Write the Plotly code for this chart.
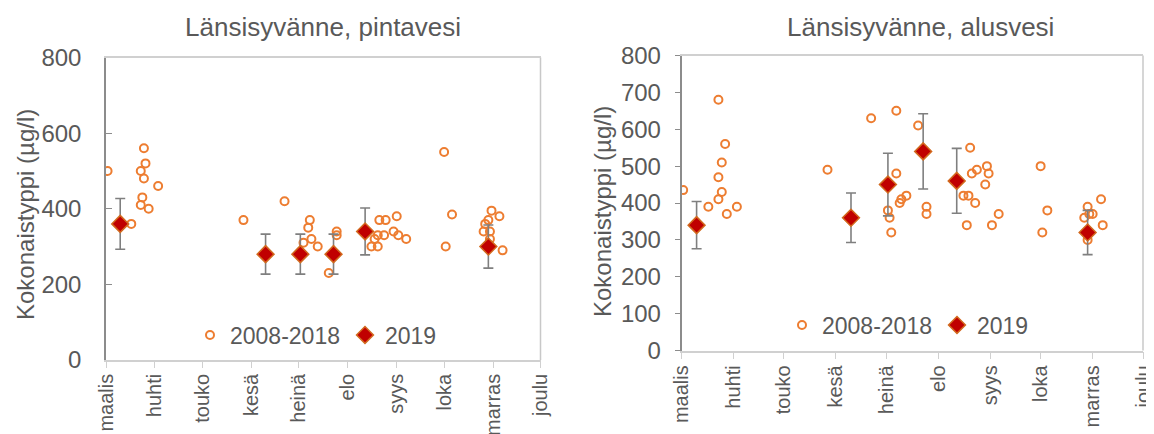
import plotly.graph_objects as go

# ---------------- data ----------------
month_ticks = ["2019-03-01", "2019-04-01", "2019-05-01", "2019-06-01", "2019-07-01",
               "2019-08-01", "2019-09-01", "2019-10-01", "2019-11-01", "2019-12-01"]
month_labels = ["maalis", "huhti", "touko", "kesä", "heinä", "elo", "syys", "loka", "marras", "joulu"]

# Left: pintavesi, 2008-2018
surf_hist_dates = ["2019-03-02", "2019-03-17", "2019-03-25", "2019-03-26", "2019-03-23", "2019-03-25",
                   "2019-03-24", "2019-03-23", "2019-03-28", "2019-04-03",
                   "2019-05-27", "2019-06-22", "2019-07-08", "2019-07-07", "2019-07-09", "2019-07-04",
                   "2019-07-13", "2019-07-20", "2019-07-25", "2019-07-25",
                   "2019-08-16", "2019-08-20", "2019-08-18", "2019-08-20", "2019-08-24", "2019-08-21",
                   "2019-08-25", "2019-09-01", "2019-08-30", "2019-09-02", "2019-09-07",
                   "2019-10-01", "2019-10-06", "2019-10-02",
                   "2019-10-27", "2019-10-29", "2019-10-31", "2019-11-05", "2019-10-26", "2019-10-30",
                   "2019-10-30", "2019-11-07"]
surf_hist_vals = [500, 360, 560, 520, 500, 480, 430, 410, 400, 460,
                  370, 420, 370, 350, 320, 310, 300, 230, 340, 330,
                  300, 300, 320, 330, 330, 370, 370, 380, 340, 330, 320,
                  550, 385, 300,
                  360, 370, 395, 380, 340, 340, 320, 290]

# Left: pintavesi, 2019
surf_2019_dates = ["2019-03-10", "2019-06-10", "2019-07-02", "2019-07-23", "2019-08-12", "2019-10-29"]
surf_2019_vals = [360, 280, 280, 280, 340, 300]
surf_2019_err = [67, 53, 53, 53, 62, 57]

# Right: alusvesi, 2008-2018
deep_hist_dates = ["2019-03-02", "2019-03-17", "2019-03-23", "2019-03-27", "2019-03-25", "2019-03-23",
                   "2019-03-25", "2019-03-23", "2019-03-28", "2019-04-03",
                   "2019-05-27", "2019-06-22", "2019-07-07", "2019-07-07", "2019-07-02", "2019-07-03",
                   "2019-07-04", "2019-07-10", "2019-07-13", "2019-07-09", "2019-07-20", "2019-07-25",
                   "2019-07-25",
                   "2019-08-20", "2019-08-21", "2019-08-24", "2019-08-16", "2019-08-19", "2019-08-23",
                   "2019-08-18", "2019-08-30", "2019-08-31", "2019-08-29", "2019-09-02", "2019-09-06",
                   "2019-10-01", "2019-10-05", "2019-10-02",
                   "2019-10-29", "2019-10-27", "2019-10-30", "2019-11-01", "2019-11-06", "2019-11-07",
                   "2019-10-29"]
deep_hist_vals = [435, 390, 680, 560, 510, 470, 430, 410, 370, 390,
                  490, 630, 650, 480, 380, 360, 320, 410, 420, 400, 610, 390, 370,
                  550, 480, 490, 420, 420, 400, 340, 500, 480, 450, 340, 370,
                  500, 380, 320,
                  390, 360, 370, 370, 410, 340, 300]

# Right: alusvesi, 2019
deep_2019_dates = ["2019-03-10", "2019-06-10", "2019-07-02", "2019-07-23", "2019-08-12", "2019-10-29"]
deep_2019_vals = [340, 360, 450, 540, 460, 320]
deep_2019_err = [64, 67, 85, 102, 88, 60]

titles = ["Länsisyvänne, pintavesi", "Länsisyvänne, alusvesi"]
y_title = "Kokonaistyppi (µg/l)"
series_names = ["2008-2018", "2019"]

# ---------------- style ----------------
FONT = "Liberation Sans, Arial, sans-serif"
TXT = "#595959"
ORANGE = "#ED7D31"
DARKRED = "#C00000"
DIAMOND_EDGE = "#D2691E"
ERR = "#7F7F7F"
WIN_W, WIN_H = 1154, 434
OFF = 8                      # default page body margin
FW, FH = WIN_W - OFF, WIN_H - OFF


def px(x):
    return (x - OFF) / FW


def py(y):
    return 1 - (y - OFF) / FH


fig = go.Figure()


def add_panel(hist_x, hist_y, y19_x, y19_y, y19_err, xa, ya, legend):
    fig.add_trace(go.Scatter(
        x=hist_x, y=hist_y, mode="markers", name=series_names[0],
        xaxis=xa, yaxis=ya, legend=legend,
        marker=dict(symbol="circle-open", size=8, color=ORANGE, line=dict(width=2, color=ORANGE)),
    ))
    fig.add_trace(go.Scatter(
        x=y19_x, y=y19_y, mode="markers", name=series_names[1],
        xaxis=xa, yaxis=ya, legend=legend,
        marker=dict(symbol="diamond", size=13, color=DARKRED, line=dict(width=1.5, color=DIAMOND_EDGE)),
        error_y=dict(type="data", array=y19_err, visible=True, color=ERR, thickness=1.6, width=5),
    ))


add_panel(surf_hist_dates, surf_hist_vals, surf_2019_dates, surf_2019_vals, surf_2019_err, "x", "y", "legend")
add_panel(deep_hist_dates, deep_hist_vals, deep_2019_dates, deep_2019_vals, deep_2019_err, "x2", "y2", "legend2")

xcommon = dict(
    type="date", range=["2019-03-01", "2019-12-01"], tickmode="array",
    tickvals=month_ticks, ticktext=month_labels, tickangle=-90, automargin=False,
    ticklabeloverflow="allow",
    showgrid=False, zeroline=False, showline=True, linecolor="#D0D0D0", linewidth=1.5,
    mirror=True, ticks="outside", tickcolor="#D0D0D0",
    tickfont=dict(family=FONT, size=20, color=TXT),
)
ycommon = dict(
    range=[0, 800], showgrid=False, zeroline=False, showline=True, linecolor="#8C8C8C",
    linewidth=1.5, tickcolor="#8C8C8C", automargin=False,
    tickfont=dict(family=FONT, size=24, color=TXT),
)
legcommon = dict(orientation="h", xanchor="left", yanchor="middle", bgcolor="rgba(0,0,0,0)",
                 font=dict(family=FONT, size=23, color=TXT), tracegroupgap=0)

fig.update_layout(
    width=FW, height=FH,
    margin=dict(l=0, r=0, t=0, b=0),
    paper_bgcolor="white", plot_bgcolor="white",
    font=dict(family=FONT, color=TXT),
    xaxis=dict(xcommon, domain=[px(106), px(540.5)], anchor="y", ticklen=6, ticklabelstandoff=-2),
    yaxis=dict(ycommon, domain=[py(360), py(57.5)], anchor="x", dtick=200, ticks="inside",
               ticklen=6, ticklabelstandoff=18),
    xaxis2=dict(xcommon, domain=[px(681.5), px(1143)], anchor="y2", ticklen=7, ticklabelstandoff=-2),
    yaxis2=dict(ycommon, domain=[py(350.5), py(55.5)], anchor="x2", dtick=100, ticks="outside",
                ticklen=5, ticklabelstandoff=9),
    legend=dict(legcommon, x=px(190), y=py(335)),
    legend2=dict(legcommon, x=px(782), y=py(325)),
    shapes=[
        dict(type="line", xref="x domain", yref="y domain", x0=1, x1=1, y0=0, y1=1,
             line=dict(color="#C8C8C8", width=1.5), layer="below"),
        dict(type="line", xref="x2 domain", yref="y2 domain", x0=1, x1=1, y0=0, y1=1,
             line=dict(color="#C8C8C8", width=1.5), layer="below"),
    ],
    annotations=[
        dict(text=titles[0], x=px(323), y=py(27), xref="paper", yref="paper",
             showarrow=False, xanchor="center", yanchor="middle",
             font=dict(family=FONT, size=26, color=TXT)),
        dict(text=titles[1], x=px(920), y=py(27), xref="paper", yref="paper",
             showarrow=False, xanchor="center", yanchor="middle",
             font=dict(family=FONT, size=26, color=TXT)),
        dict(text=y_title, x=px(25), y=py(215), xref="paper", yref="paper",
             showarrow=False, textangle=-90, xanchor="center", yanchor="middle",
             font=dict(family=FONT, size=24, color=TXT)),
        dict(text=y_title, x=px(602), y=py(212), xref="paper", yref="paper",
             showarrow=False, textangle=-90, xanchor="center", yanchor="middle",
             font=dict(family=FONT, size=24, color=TXT)),
    ],
)

fig.write_html("out.html")
